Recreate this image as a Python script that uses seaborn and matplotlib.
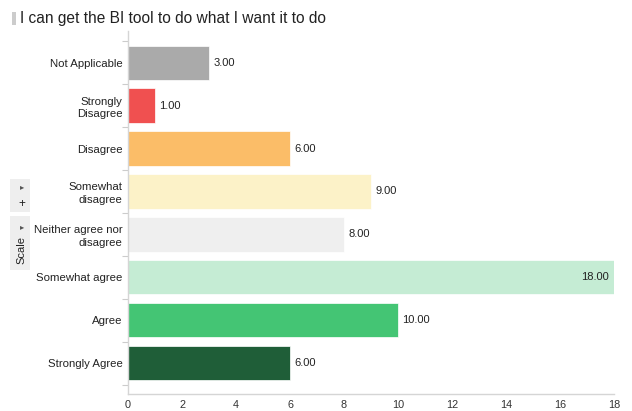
import matplotlib
matplotlib.use("Agg")
import matplotlib.pyplot as plt
import seaborn as sns
import pandas as pd
from matplotlib.patches import Rectangle
from matplotlib.ticker import FixedLocator

categories = ["Not Applicable", "Strongly\nDisagree", "Disagree", "Somewhat\ndisagree",
              "Neither agree nor\ndisagree", "Somewhat agree", "Agree", "Strongly Agree"]
values = [3, 1, 6, 9, 8, 18, 10, 6]
colors = ["#aaaaaa", "#f05050", "#fbbd68", "#fcf2c8", "#efefef", "#c5ecd4", "#44c574", "#1f5e38"]
xticks = [0, 2, 4, 6, 8, 10, 12, 14, 16, 18]
title = "I can get the BI tool to do what I want it to do"

sns.set_theme(style="white")
plt.rcParams['font.family'] = ['Liberation Sans', 'DejaVu Sans']

df = pd.DataFrame({"cat": categories, "val": values})
fig = plt.figure(figsize=(6.32, 4.11), dpi=100)
ax = fig.add_axes([128/632, 1-394/411, (614-128)/632, (394-31)/411])
sns.barplot(data=df, y="cat", x="val", hue="cat", palette=colors, legend=False,
            ax=ax, width=0.8, orient="h", saturation=1, edgecolor="white", linewidth=0.5)

ax.set_xlim(0, 18)
ax.set_ylim(len(categories) - 1 + 0.72, -0.74)
ax.set_xticks(xticks)
ax.set_xlabel("")
ax.set_ylabel("")
ax.tick_params(axis="x", labelsize=7.8, colors="#333333", length=3, width=0.8, color="#cccccc", pad=1.5)
ax.tick_params(axis="y", labelsize=8.2, colors="#222222", length=0, pad=4)
for lbl in ax.get_yticklabels():
    lbl.set_horizontalalignment("right")
    lbl.set_multialignment("right")
    lbl.set_linespacing(1.35)
ax.yaxis.set_minor_locator(FixedLocator([i + 0.5 for i in range(-1, len(categories))]))
ax.tick_params(axis="y", which="minor", length=4, width=0.8, color="#cccccc", left=True)
for s in ["top", "right"]:
    ax.spines[s].set_visible(False)
for s in ["left", "bottom"]:
    ax.spines[s].set_color("#d5d5d5")
    ax.spines[s].set_linewidth(1)

vmax = max(values)
for i, v in enumerate(values):
    if v == vmax:
        ax.text(v - 0.2, i, f"{v:.2f}", ha="right", va="center", fontsize=8, color="#222222")
    else:
        ax.text(v + 0.17, i, f"{v:.2f}", ha="left", va="center", fontsize=8, color="#222222")

# title
fig.patches.append(Rectangle((12/632, 1-25/411), 4/632, 13/411, transform=fig.transFigure,
                             facecolor="#cccccc", edgecolor="none"))
fig.text(20/632, 1-18/411, title, ha="left", va="center", fontsize=11.2, color="#222222")

# left "Scale" widget
fig.patches.append(Rectangle((10/632, 1-212/411), 20/632, 33/411, transform=fig.transFigure,
                             facecolor="#eeeeee", edgecolor="none"))
fig.patches.append(Rectangle((10/632, 1-270/411), 20/632, 54/411, transform=fig.transFigure,
                             facecolor="#eeeeee", edgecolor="none"))
fig.text(22/632, 1-187/411, "\u25B8", ha="center", va="center", fontsize=6, color="#555555",
         family=["DejaVu Sans"])
fig.text(22/632, 1-204/411, "+", ha="center", va="center", fontsize=8.5, color="#222222")
fig.text(22/632, 1-227/411, "\u25B8", ha="center", va="center", fontsize=6, color="#555555",
         family=["DejaVu Sans"])
fig.text(21/632, 1-250/411, "Scale", ha="center", va="center", fontsize=8, color="#222222",
         rotation=90)

fig.savefig("out.png", dpi=100)
